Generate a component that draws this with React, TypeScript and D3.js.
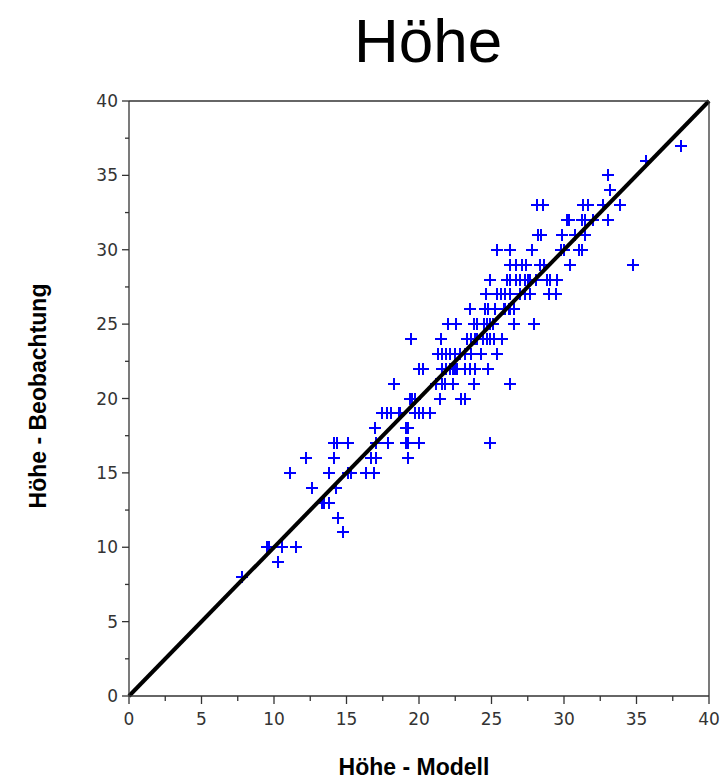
import React from "react";
import * as d3 from "d3";

const modell: number[] = [
  7.81,
  10.30,
  9.50, 9.66, 10.57, 11.50,
  14.74,
  14.43,
  13.28, 13.45, 13.79,
  12.63, 14.31,
  11.10, 13.76, 15.12, 15.33, 16.34, 16.90,
  12.21, 14.14, 16.69, 17.03, 19.24,
  14.16, 14.32, 15.12, 17.00, 17.88, 19.10, 19.24, 19.99, 24.90,
  16.97, 19.10, 19.24,
  17.45, 17.76, 18.07, 18.59, 18.72, 19.72, 20.00, 20.28, 20.76,
  19.41, 19.55, 19.72, 21.45, 22.93, 23.14,
  18.28, 21.17, 21.59, 21.79, 22.34, 23.79, 26.28,
  19.97, 20.28, 21.59, 21.83, 22.14, 22.34, 22.48, 22.62, 23.17, 23.52, 23.86, 24.76,
  21.34, 21.62, 21.86, 22.14, 22.48, 22.83, 23.17, 23.59, 24.28, 25.41,
  19.48, 21.52, 23.28, 23.62, 23.83, 24.00, 24.41, 24.69, 24.93, 25.14, 25.69,
  22.03, 22.55, 23.76, 24.00, 24.48, 24.69, 24.90, 25.10, 26.55, 27.93,
  23.55, 24.55, 24.79, 25.24, 25.83, 25.93, 26.21, 26.28, 26.52,
  24.62, 25.38, 25.66, 25.93, 26.28, 26.97, 27.31, 27.66, 28.97, 29.45,
  24.90, 26.07, 26.31, 26.69, 26.97, 27.34, 27.52, 27.66, 28.07, 28.81, 29.03, 29.50,
  26.31, 26.69, 27.10, 27.38, 28.34, 28.62, 30.41, 34.76,
  25.38, 26.28, 27.79, 29.79, 30.00, 31.00, 31.24,
  28.24, 28.38, 29.86, 30.76, 31.45,
  30.21, 30.34, 31.24, 31.45, 32.00, 33.03,
  28.14, 28.55, 31.28, 31.66, 32.66, 33.86,
  33.14,
  33.03,
  35.66,
  38.07,
];

const beobachtung: number[] = [
  8,
  9,
  10, 10, 10, 10,
  11,
  12,
  13, 13, 13,
  14, 14,
  15, 15, 15, 15, 15, 15,
  16, 16, 16, 16, 16,
  17, 17, 17, 17, 17, 17, 17, 17, 17,
  18, 18, 18,
  19, 19, 19, 19, 19, 19, 19, 19, 19,
  20, 20, 20, 20, 20, 20,
  21, 21, 21, 21, 21, 21, 21,
  22, 22, 22, 22, 22, 22, 22, 22, 22, 22, 22, 22,
  23, 23, 23, 23, 23, 23, 23, 23, 23, 23,
  24, 24, 24, 24, 24, 24, 24, 24, 24, 24, 24,
  25, 25, 25, 25, 25, 25, 25, 25, 25, 25,
  26, 26, 26, 26, 26, 26, 26, 26, 26,
  27, 27, 27, 27, 27, 27, 27, 27, 27, 27,
  28, 28, 28, 28, 28, 28, 28, 28, 28, 28, 28, 28,
  29, 29, 29, 29, 29, 29, 29, 29,
  30, 30, 30, 30, 30, 30, 30,
  31, 31, 31, 31, 31,
  32, 32, 32, 32, 32, 32,
  33, 33, 33, 33, 33, 33,
  34,
  35,
  36,
  37,
];

const majorTicks: number[] = [0, 5, 10, 15, 20, 25, 30, 35, 40];
const minorTicks: number[] = [2.5, 7.5, 12.5, 17.5, 22.5, 27.5, 32.5, 37.5];
const diagonal: [number, number][] = [[0, 0], [40, 40]];

const title = "Höhe";
const xLabel = "Höhe - Modell";
const yLabel = "Höhe - Beobachtung";

export default function App() {
  const W = 723;
  const H = 784;
  const left = 129, right = 709, top = 101, bottom = 696;
  const x = d3.scaleLinear().domain([0, 40]).range([left, right]);
  const y = d3.scaleLinear().domain([0, 40]).range([bottom, top]);
  const line = d3.line<[number, number]>().x(d => x(d[0])).y(d => y(d[1]));
  const axisColor = "#333";
  const tickFont = "'DejaVu Sans', sans-serif";
  const m = 6;

  return (
    <svg width={W} height={H} style={{ position: "absolute", left: 0, top: 0, background: "#fff" }}>
      <rect x={0} y={0} width={W} height={H} fill="#fff" />
      <text x={428} y={62} textAnchor="middle" fontFamily="'Liberation Sans', Arial, sans-serif" fontSize={62} fill="#000">{title}</text>

      {/* points */}
      <g stroke="#0000ff" strokeWidth={1.5} shapeRendering="crispEdges">
        {modell.map((mv, i) => {
          const cx = Math.round(x(mv));
          const cy = Math.round(y(beobachtung[i]));
          return (
            <path key={i} d={`M${cx - m},${cy}H${cx + m}M${cx},${cy - m}V${cy + m}`} />
          );
        })}
      </g>

      {/* diagonal */}
      <path d={line(diagonal) || ""} stroke="#000" strokeWidth={4} fill="none" />

      {/* frame */}
      <g stroke={axisColor} strokeWidth={1.3} fill="none">
        <line x1={left} x2={right} y1={bottom} y2={bottom} />
        <line x1={left} x2={left} y1={top} y2={bottom} />
        <line x1={left} x2={right} y1={top} y2={top} />
        <line x1={right} x2={right} y1={top} y2={bottom} />
        {majorTicks.map(t => (
          <g key={"mx" + t}>
            <line x1={x(t)} x2={x(t)} y1={bottom} y2={bottom + 8} />
            <line x1={left - 7} x2={left} y1={y(t)} y2={y(t)} />
          </g>
        ))}
        {minorTicks.map(t => (
          <g key={"mn" + t}>
            <line x1={x(t)} x2={x(t)} y1={bottom} y2={bottom + 5} />
            <line x1={left - 4} x2={left} y1={y(t)} y2={y(t)} />
          </g>
        ))}
      </g>

      {/* tick labels */}
      <g fontFamily={tickFont} fontSize={17} fill={axisColor}>
        {majorTicks.map(t => (
          <text key={"lx" + t} x={x(t)} y={bottom + 29} textAnchor="middle">{t}</text>
        ))}
        {majorTicks.map(t => (
          <text key={"ly" + t} x={left - 11} y={y(t) + 6} textAnchor="end">{t}</text>
        ))}
      </g>

      <text x={414} y={775} textAnchor="middle" fontFamily="'Liberation Sans', Arial, sans-serif" fontWeight="bold" fontSize={23} fill="#000">{xLabel}</text>
      <text transform={`translate(46,396) rotate(-90)`} textAnchor="middle" fontFamily="'Liberation Sans', Arial, sans-serif" fontWeight="bold" fontSize={23} fill="#000">{yLabel}</text>
    </svg>
  );
}
